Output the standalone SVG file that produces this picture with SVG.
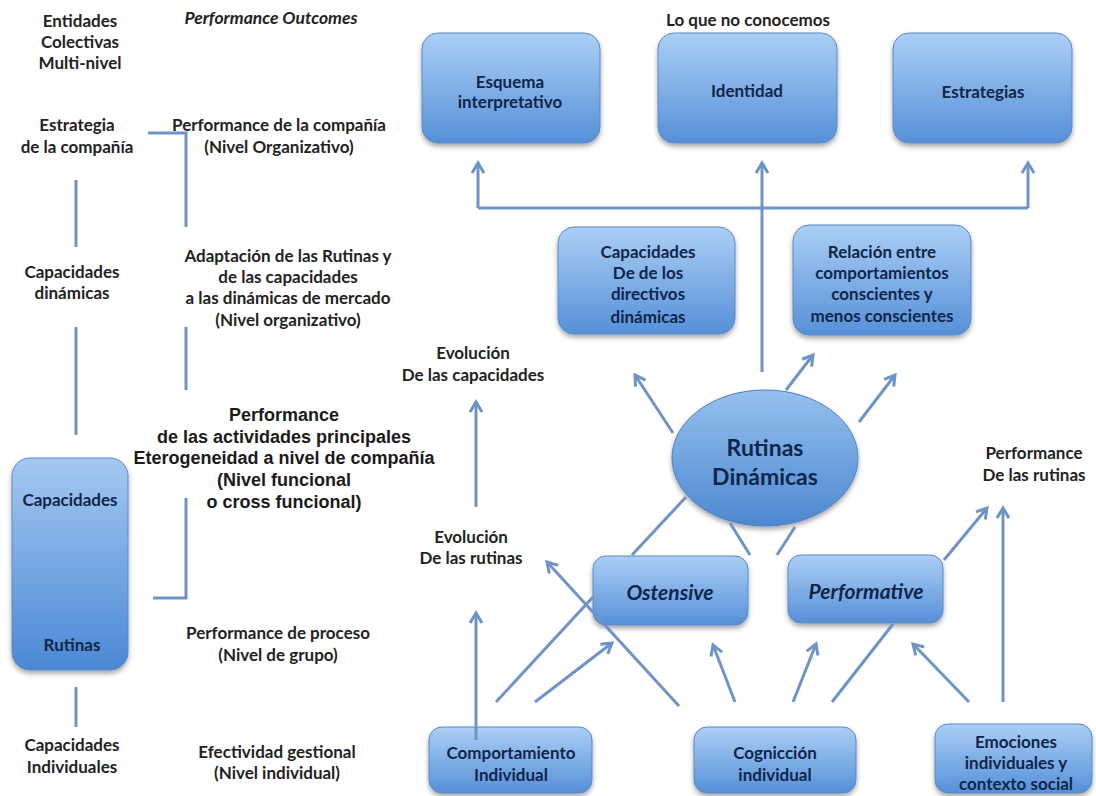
<svg xmlns="http://www.w3.org/2000/svg" width="1096" height="796" viewBox="0 0 1096 796">
<defs>
<linearGradient id="gBox" x1="0" y1="0" x2="0" y2="1">
<stop offset="0" stop-color="#abcff5"/>
<stop offset="1" stop-color="#5690d8"/>
</linearGradient>
<linearGradient id="gTall" x1="0" y1="0" x2="0" y2="1">
<stop offset="0" stop-color="#a4c8f1"/>
<stop offset="1" stop-color="#4b88d4"/>
</linearGradient>
<linearGradient id="gEll" x1="0" y1="0" x2="0" y2="1">
<stop offset="0" stop-color="#95c0ee"/>
<stop offset="1" stop-color="#4d88d1"/>
</linearGradient>
<filter id="sh" x="-10%" y="-10%" width="120%" height="130%">
<feDropShadow dx="0" dy="3" stdDeviation="2.5" flood-color="#000" flood-opacity="0.35"/>
</filter>
<marker id="arr" markerWidth="16" markerHeight="16" refX="13" refY="8" orient="auto" markerUnits="userSpaceOnUse">
<path d="M3,2 L13,8 L3,14" fill="none" stroke="#6e93c6" stroke-width="3" stroke-linejoin="miter"/>
</marker>
<style>
.box{fill:url(#gBox);stroke:#5b89c4;stroke-width:1;filter:url(#sh)}
.tall{fill:url(#gTall);stroke:#5b89c4;stroke-width:1;filter:url(#sh)}
.ell{fill:url(#gEll);stroke:#4e80c0;stroke-width:1;filter:url(#sh)}
.bt{font-family:Lato,"Open Sans",sans-serif;font-weight:bold;font-size:17px;fill:#10254a;text-anchor:middle}
.big{font-family:Lato,"Open Sans",sans-serif;font-weight:bold;font-size:23px;fill:#10254a;text-anchor:middle}
.it{font-family:Lato,"Open Sans",sans-serif;font-weight:bold;font-style:italic;font-size:21px;fill:#10254a;text-anchor:middle}
.lb{font-family:Lato,"Open Sans",sans-serif;font-weight:bold;font-size:17px;fill:#222222;text-anchor:middle}
.lbi{font-family:Lato,"Open Sans",sans-serif;font-weight:bold;font-style:italic;font-size:17.5px;fill:#222222;text-anchor:middle}
.ar{font-family:"Liberation Sans",Arial,sans-serif;font-weight:bold;font-size:18px;fill:#1a1a1a;text-anchor:middle}
.ln{fill:none;stroke:#6e93c6;stroke-width:3}
.ah{fill:none;stroke:#6e93c6;stroke-width:3;marker-end:url(#arr)}
</style>
</defs>
<rect width="1096" height="796" fill="#ffffff"/>

<g id="labels">
<text class="lb" x="80" y="27">Entidades</text>
<text class="lb" x="80" y="48">Colectivas</text>
<text class="lb" x="80" y="69">Multi-nivel</text>
<text class="lbi" x="271" y="24">Performance Outcomes</text>
<text class="lb" x="77" y="131">Estrategia</text>
<text class="lb" x="77" y="153">de la compañía</text>
<text class="lb" x="279" y="131">Performance de la compañía</text>
<text class="lb" x="279" y="153">(Nivel Organizativo)</text>
<text class="lb" x="72" y="278">Capacidades</text>
<text class="lb" x="72" y="299">dinámicas</text>
<text class="lb" x="288" y="262">Adaptación de las Rutinas y</text>
<text class="lb" x="288" y="283">de las capacidades</text>
<text class="lb" x="288" y="304">a las dinámicas de mercado</text>
<text class="lb" x="288" y="326">(Nivel organizativo)</text>
<text class="ar" x="284" y="421">Performance</text>
<text class="ar" x="284" y="443">de las actividades principales</text>
<text class="ar" x="284" y="464">Eterogeneidad a nivel de compañía</text>
<text class="ar" x="284" y="486">(Nivel funcional</text>
<text class="ar" x="284" y="508">o cross funcional)</text>
<text class="lb" x="278" y="639">Performance de proceso</text>
<text class="lb" x="278" y="661">(Nivel de grupo)</text>
<text class="lb" x="72" y="751">Capacidades</text>
<text class="lb" x="72" y="773">Individuales</text>
<text class="lb" x="277" y="758">Efectividad gestional</text>
<text class="lb" x="277" y="779">(Nivel individual)</text>
<text class="lb" x="748" y="26">Lo que no conocemos</text>
<text class="lb" x="473" y="359">Evolución</text>
<text class="lb" x="473" y="381">De las capacidades</text>
<text class="lb" x="471" y="543">Evolución</text>
<text class="lb" x="471" y="564">De las rutinas</text>
<text class="lb" x="1034" y="459">Performance</text>
<text class="lb" x="1034" y="481">De las rutinas</text>
</g>

<g id="n-caprut">
<rect class="tall" x="12" y="458" width="116" height="212" rx="18"/>
<text class="bt" x="70" y="506">Capacidades</text>
<text class="bt" x="72" y="651">Rutinas</text>
</g>
<g id="n-esquema">
<rect class="box" x="422" y="33" width="178" height="110" rx="16"/>
<text class="bt" x="510" y="88">Esquema</text>
<text class="bt" x="510" y="108">interpretativo</text>
</g>
<g id="n-identidad">
<rect class="box" x="658" y="33" width="179" height="110" rx="16"/>
<text class="bt" x="747" y="97">Identidad</text>
</g>
<g id="n-estrategias">
<rect class="box" x="893" y="33" width="179" height="110" rx="16"/>
<text class="bt" x="983" y="98">Estrategias</text>
</g>
<g id="n-capdir">
<rect class="box" x="558" y="227" width="177" height="107" rx="16"/>
<text class="bt" x="648" y="258">Capacidades</text>
<text class="bt" x="648" y="279">De de los</text>
<text class="bt" x="648" y="300">directivos</text>
<text class="bt" x="648" y="323">dinámicas</text>
</g>
<g id="n-relacion">
<rect class="box" x="793" y="225" width="178" height="110" rx="16"/>
<text class="bt" x="882" y="258">Relación entre</text>
<text class="bt" x="882" y="279">comportamientos</text>
<text class="bt" x="882" y="300">conscientes y</text>
<text class="bt" x="882" y="322">menos conscientes</text>
</g>
<g id="n-rutinas">
<ellipse class="ell" cx="765" cy="458" rx="93" ry="68"/>
<text class="big" x="765" y="456">Rutinas</text>
<text class="big" x="765" y="485">Dinámicas</text>
</g>
<g id="n-ostensive">
<rect class="box" x="593" y="556" width="155" height="69" rx="13"/>
<text class="it" x="670" y="600">Ostensive</text>
</g>
<g id="n-performative">
<rect class="box" x="788" y="555" width="155" height="68" rx="13"/>
<text class="it" x="866" y="599">Performative</text>
</g>
<g id="n-comport">
<rect class="box" x="429" y="727" width="163" height="66" rx="13"/>
<text class="bt" x="511" y="759">Comportamiento</text>
<text class="bt" x="511" y="781">Individual</text>
</g>
<g id="n-cognic">
<rect class="box" x="694" y="727" width="162" height="66" rx="13"/>
<text class="bt" x="775" y="759">Cognicción</text>
<text class="bt" x="775" y="781">individual</text>
</g>
<g id="n-emoc">
<rect class="box" x="935" y="724" width="157" height="69" rx="13"/>
<text class="bt" x="1016" y="748">Emociones</text>
<text class="bt" x="1016" y="769">individuales y</text>
<text class="bt" x="1016" y="790">contexto social</text>
</g>

<g id="connectors">
<path class="ln" d="M148,133 H186 V227"/>
<path class="ln" d="M76,180 V247"/>
<path class="ln" d="M76,327 V435"/>
<path class="ln" d="M186,327 V390"/>
<path class="ln" d="M186,498 V598 H153"/>
<path class="ln" d="M76,687 V727"/>
<path class="ln" d="M478,208 H1028"/>
<path class="ah" d="M478,208 V163"/>
<path class="ah" d="M762,372 V163"/>
<path class="ah" d="M1028,208 V163"/>
<path class="ah" d="M673,433 L635,375"/>
<path class="ah" d="M786,390 L813,355"/>
<path class="ah" d="M859,422 L895,375"/>
<path class="ah" d="M476,507 V402"/>
<path class="ah" d="M476,740 V613"/>
<path class="ln" d="M496,702 L593,597"/>
<path class="ln" d="M632,555 L686,497"/>
<path class="ah" d="M535,702 L612,643"/>
<path class="ah" d="M679,706 L547,562"/>
<path class="ln" d="M750,555 L730,523"/>
<path class="ln" d="M777,555 L795,527"/>
<path class="ah" d="M735,702 L713,645"/>
<path class="ah" d="M793,702 L816,644"/>
<path class="ln" d="M832,702 L893,624"/>
<path class="ah" d="M944,560 L987,508"/>
<path class="ah" d="M969,702 L913,644"/>
<path class="ah" d="M1003,702 V508"/>
</g>
</svg>
